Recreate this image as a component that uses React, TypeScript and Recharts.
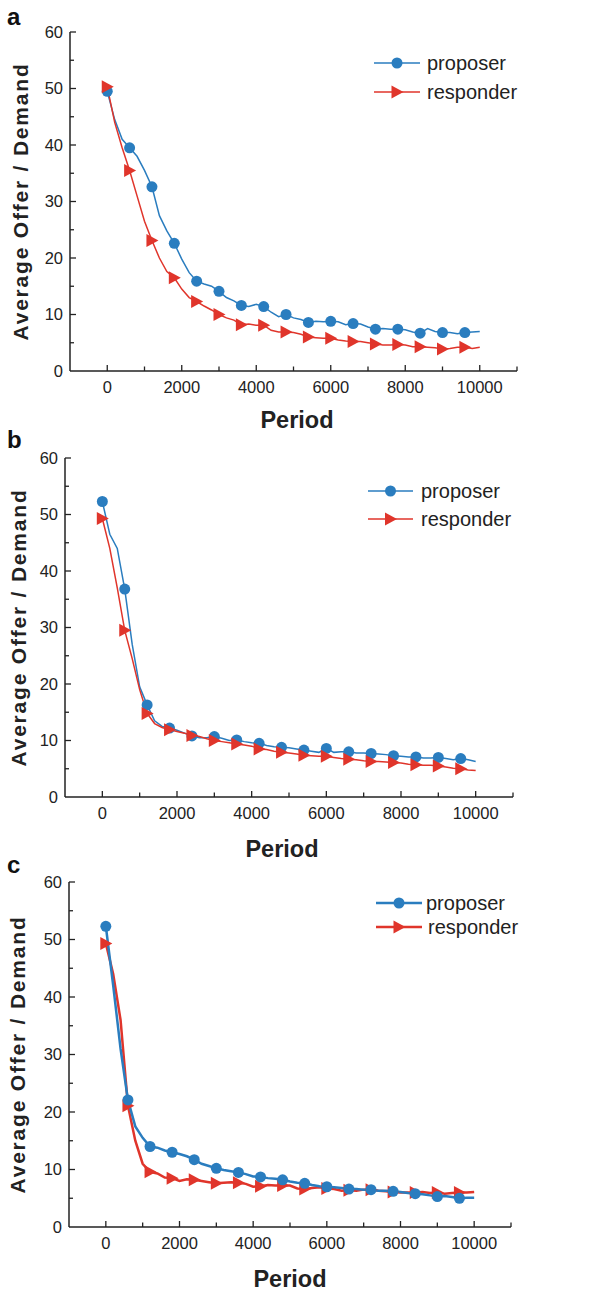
import React from "react";
import { LineChart, Line, XAxis, YAxis, Legend, Label } from "recharts";

// periods sampled every 200 steps
const periods = [
  0, 200, 400, 600, 800, 1000, 1200, 1400, 1600, 1800,
  2000, 2200, 2400, 2600, 2800, 3000, 3200, 3400, 3600, 3800,
  4000, 4200, 4400, 4600, 4800, 5000, 5200, 5400, 5600, 5800,
  6000, 6200, 6400, 6600, 6800, 7000, 7200, 7400, 7600, 7800,
  8000, 8200, 8400, 8600, 8800, 9000, 9200, 9400, 9600, 9800,
  10000,
];

const proposerA = [
  49.5, 44.5, 41.0, 39.5, 38.0, 35.5, 32.6, 27.5, 24.8, 22.6,
  19.8, 17.4, 15.9, 15.4, 15.0, 14.1, 13.0, 12.4, 11.6, 11.4,
  11.8, 11.4, 10.4, 9.6, 10.0, 9.4, 9.1, 8.6, 8.8, 8.7,
  8.8, 8.7, 8.2, 8.4, 8.3, 7.8, 7.4, 7.5, 7.4, 7.4,
  7.3, 6.9, 6.7, 7.5, 7.0, 6.8, 6.8, 6.6, 6.8, 6.9,
  7.0,
];
const responderA = [
  50.3, 44.0, 39.5, 35.5, 31.0, 26.5, 23.1, 20.0, 17.6, 16.5,
  14.5, 13.0, 12.3, 11.5, 10.8, 10.0, 9.4, 9.0, 8.2, 8.3,
  8.1, 8.1, 7.2, 6.9, 6.9, 6.8, 6.5, 6.0, 5.9, 5.8,
  5.8, 5.5, 5.3, 5.2, 5.2, 5.0, 4.8, 4.6, 4.6, 4.7,
  4.6, 4.3, 4.3, 4.2, 4.1, 3.9, 4.0, 4.2, 4.2, 4.0,
  4.2,
];

const proposerB = [
  52.3, 46.5, 44.0, 36.8, 27.0, 19.5, 16.3, 13.5, 12.5, 12.2,
  11.8, 11.3, 10.8, 10.5, 10.5, 10.7, 10.4, 10.0, 10.1, 9.8,
  9.6, 9.5, 9.1, 8.9, 8.8, 8.7, 8.5, 8.3, 8.1, 7.9,
  8.6, 7.9, 8.0, 8.0, 7.8, 7.8, 7.7, 7.6, 7.5, 7.3,
  7.2, 7.1, 7.1, 6.9, 6.9, 7.0, 6.8, 6.6, 6.8, 6.6,
  6.3,
];
const responderB = [
  49.3, 44.0, 37.0, 29.5, 24.5, 19.0, 14.8, 13.0, 12.3, 11.9,
  11.6, 11.3, 10.9, 10.7, 10.3, 10.0, 9.8, 9.6, 9.4, 9.2,
  9.0, 8.5, 8.4, 8.1, 7.9, 7.8, 7.6, 7.4, 7.3, 7.2,
  7.2, 7.0, 6.8, 6.7, 6.6, 6.4, 6.3, 6.3, 6.2, 6.1,
  6.0, 5.8, 5.7, 5.6, 5.6, 5.5, 5.3, 5.1, 5.0, 4.8,
  4.7,
];

const proposerC = [
  52.3, 42.0, 31.0, 22.1, 17.5, 15.5, 14.0, 13.8, 13.3, 13.0,
  12.7, 12.3, 11.7, 11.0, 10.6, 10.2, 9.9, 9.7, 9.5, 9.2,
  8.8, 8.7, 8.5, 8.4, 8.2, 7.9, 7.7, 7.6, 7.3, 7.1,
  7.0, 6.9, 6.8, 6.6, 6.6, 6.5, 6.5, 6.3, 6.3, 6.2,
  6.1, 5.9, 5.8, 5.7, 5.5, 5.3, 5.4, 5.2, 5.0, 5.1,
  5.1,
];
const responderC = [
  49.3, 44.0, 36.0, 21.1, 15.0, 11.0, 9.6, 9.3, 8.6, 8.5,
  8.0, 8.3, 8.2, 8.0, 7.8, 7.6, 7.7, 7.8, 7.7, 7.5,
  7.0, 7.1, 7.3, 7.2, 7.2, 7.2, 6.7, 6.6, 6.8, 6.9,
  6.7, 6.6, 6.3, 6.4, 6.3, 6.5, 6.5, 6.3, 6.2, 6.1,
  6.0, 6.0, 6.0, 6.1, 5.9, 6.0, 5.8, 5.9, 6.0, 6.0,
  6.1,
];

const xTicks = [-1000, 0, 1000, 2000, 3000, 4000, 5000, 6000, 7000, 8000, 9000, 10000, 11000];
const xTickLabels = [0, 2000, 4000, 6000, 8000, 10000];
const yTicks = [0, 5, 10, 15, 20, 25, 30, 35, 40, 45, 50, 55, 60];
const yTickLabels = [0, 10, 20, 30, 40, 50, 60];

const BLUE = "#2a7dbf";
const RED = "#e0352b";
const INK = "#222";
const FONT = "'Liberation Sans', Arial, sans-serif";

const XTick = (props: any) => {
  const { x, y, payload } = props;
  const v = payload.value;
  if (v === -1000) return <g />;
  const major = xTickLabels.includes(v);
  return (
    <g>
      <line x1={x} x2={x} y1={y} y2={y - (major ? 6 : 4.5)} stroke={INK} strokeWidth={1.3} />
      {major && (
        <text x={x} y={y + 22} textAnchor="middle" fontSize={16.5} fill={INK} fontFamily={FONT}>
          {v}
        </text>
      )}
    </g>
  );
};

const YTick = (props: any) => {
  const { x, y, payload } = props;
  const v = payload.value;
  const major = yTickLabels.includes(v);
  return (
    <g>
      {v !== 0 && (
        <line x1={x} x2={x + (major ? 6 : 4)} y1={y} y2={y} stroke={INK} strokeWidth={1.3} />
      )}
      {major && (
        <text x={x - 7} y={y} dy="0.36em" textAnchor="end" fontSize={16.5} fill={INK} fontFamily={FONT}>
          {v}
        </text>
      )}
    </g>
  );
};

const showMarker = (p: number) => p % 600 === 0 && p <= 9600;

const circleDot = (props: any) => {
  const { cx, cy, payload, index } = props;
  if (!showMarker(payload.period)) return <g key={`c${index}`} />;
  return <circle key={`c${index}`} cx={cx} cy={cy} r={5.5} fill={BLUE} />;
};

const triDot = (props: any) => {
  const { cx, cy, payload, index } = props;
  if (!showMarker(payload.period)) return <g key={`t${index}`} />;
  return (
    <polygon
      key={`t${index}`}
      points={`${cx - 5.5},${cy - 6.5} ${cx + 6.5},${cy} ${cx - 5.5},${cy + 6.5}`}
      fill={RED}
    />
  );
};

type PanelCfg = {
  letter: string;
  top: number;
  height: number;
  plotLeft: number;
  plotRight: number;
  plotTop: number;
  plotBottom: number;
  yLabelX: number;
  xLabelX: number;
  xLabelY: number;
  letterY: number;
  legendLeft: number;
  legendTop: number;
  legendLine: [number, number];
  legendRows: [number, number];
  legendText: [number, number];
  lineWidth: number;
  proposer: number[];
  responder: number[];
  blueOnTop: boolean;
};

const panels: PanelCfg[] = [
  {
    letter: "a", top: 0, height: 440,
    plotLeft: 70, plotRight: 517, plotTop: 32, plotBottom: 371,
    yLabelX: 20, xLabelX: 297, xLabelY: 428, letterY: 25,
    legendLeft: 370, legendTop: 45, legendLine: [4, 50], legendRows: [18, 47], legendText: [57, 57],
    lineWidth: 1.5, proposer: proposerA, responder: responderA, blueOnTop: false,
  },
  {
    letter: "b", top: 425, height: 440,
    plotLeft: 65, plotRight: 513, plotTop: 458, plotBottom: 797,
    yLabelX: 18, xLabelX: 282, xLabelY: 857, letterY: 448,
    legendLeft: 364, legendTop: 473, legendLine: [4, 49], legendRows: [18, 46], legendText: [57, 57],
    lineWidth: 1.5, proposer: proposerB, responder: responderB, blueOnTop: false,
  },
  {
    letter: "c", top: 850, height: 443,
    plotLeft: 69, plotRight: 511, plotTop: 882, plotBottom: 1227,
    yLabelX: 17, xLabelX: 290, xLabelY: 1287, letterY: 873,
    legendLeft: 372, legendTop: 885, legendLine: [4, 50], legendRows: [18, 42], legendText: [54, 56],
    lineWidth: 2.5, proposer: proposerC, responder: responderC, blueOnTop: true,
  },
];

const LegendBox = ({ cfg }: { cfg: PanelCfg }) => {
  const [x1, x2] = cfg.legendLine;
  const mid = (x1 + x2) / 2;
  const [r1, r2] = cfg.legendRows;
  return (
    <svg width={170} height={64} style={{ overflow: "visible" }}>
      <line x1={x1} x2={x2} y1={r1} y2={r1} stroke={BLUE} strokeWidth={cfg.lineWidth} />
      <circle cx={mid} cy={r1} r={5.5} fill={BLUE} />
      <text x={cfg.legendText[0]} y={r1} dy="0.36em" fontSize={20} fill={INK} fontFamily={FONT}>
        proposer
      </text>
      <line x1={x1} x2={x2} y1={r2} y2={r2} stroke={RED} strokeWidth={cfg.lineWidth} />
      <polygon points={`${mid - 5.5},${r2 - 6.5} ${mid + 6.5},${r2} ${mid - 5.5},${r2 + 6.5}`} fill={RED} />
      <text x={cfg.legendText[1]} y={r2} dy="0.36em" fontSize={20} fill={INK} fontFamily={FONT}>
        responder
      </text>
    </svg>
  );
};

const Panel = ({ cfg }: { cfg: PanelCfg }) => {
  const data = periods.map((p, i) => ({
    period: p,
    proposer: cfg.proposer[i],
    responder: cfg.responder[i],
  }));
  const yAxisW = 60;
  const xAxisH = 60;
  const margin = {
    top: cfg.plotTop - cfg.top,
    right: 599 - cfg.plotRight,
    left: cfg.plotLeft - yAxisW,
    bottom: cfg.top + cfg.height - cfg.plotBottom - xAxisH,
  };
  const midY = (cfg.plotTop + cfg.plotBottom) / 2 - cfg.top;

  const blue = (
    <Line
      key="p"
      type="linear"
      dataKey="proposer"
      stroke={BLUE}
      strokeWidth={cfg.lineWidth}
      dot={circleDot}
      activeDot={false}
      isAnimationActive={false}
    />
  );
  const red = (
    <Line
      key="r"
      type="linear"
      dataKey="responder"
      stroke={RED}
      strokeWidth={cfg.lineWidth}
      dot={triDot}
      activeDot={false}
      isAnimationActive={false}
    />
  );

  return (
    <div style={{ position: "absolute", left: 0, top: cfg.top }}>
      <LineChart width={599} height={cfg.height} data={data} margin={margin}>
        <XAxis
          dataKey="period"
          type="number"
          domain={[-1000, 11000]}
          ticks={xTicks}
          interval={0}
          height={xAxisH}
          tickLine={false}
          tickSize={0}
          tickMargin={0}
          tick={<XTick />}
          axisLine={{ stroke: INK, strokeWidth: 1.5 }}
          allowDataOverflow
        >
          <Label
            content={() => (
              <text
                x={cfg.xLabelX}
                y={cfg.xLabelY - cfg.top}
                textAnchor="middle"
                fontSize={23.5}
                fontWeight="bold"
                fill={INK}
                fontFamily={FONT}
              >
                Period
              </text>
            )}
          />
        </XAxis>
        <YAxis
          type="number"
          domain={[0, 60]}
          ticks={yTicks}
          interval={0}
          width={yAxisW}
          tickLine={false}
          tickSize={0}
          tickMargin={0}
          tick={<YTick />}
          axisLine={{ stroke: INK, strokeWidth: 1.5 }}
        >
          <Label
            content={() => (
              <g>
                <text
                  x={cfg.yLabelX}
                  y={midY}
                  transform={`rotate(-90 ${cfg.yLabelX} ${midY})`}
                  textAnchor="middle"
                  dy="0.36em"
                  fontSize={21}
                  fontWeight="bold"
                  letterSpacing={1.8}
                  fill={INK}
                  fontFamily={FONT}
                >
                  Average Offer / Demand
                </text>
                <text
                  x={7}
                  y={cfg.letterY - cfg.top}
                  fontSize={24}
                  fontWeight="bold"
                  fill="#111"
                  fontFamily={FONT}
                >
                  {cfg.letter}
                </text>
              </g>
            )}
          />
        </YAxis>
        <Legend
          layout="horizontal"
          verticalAlign="middle"
          align="center"
          wrapperStyle={{ left: cfg.legendLeft, top: cfg.legendTop - cfg.top, width: 170, height: 64 }}
          content={() => <LegendBox cfg={cfg} />}
        />
        {cfg.blueOnTop ? [red, blue] : [blue, red]}
      </LineChart>
    </div>
  );
}

export default function App() {
  return (
    <div
      style={{
        position: "absolute",
        left: 0,
        top: 0,
        width: 599,
        height: 1293,
        background: "#fff",
        overflow: "hidden",
      }}
    >
      {panels.map((cfg) => (
        <Panel key={cfg.letter} cfg={cfg} />
      ))}
    </div>
  );
}
